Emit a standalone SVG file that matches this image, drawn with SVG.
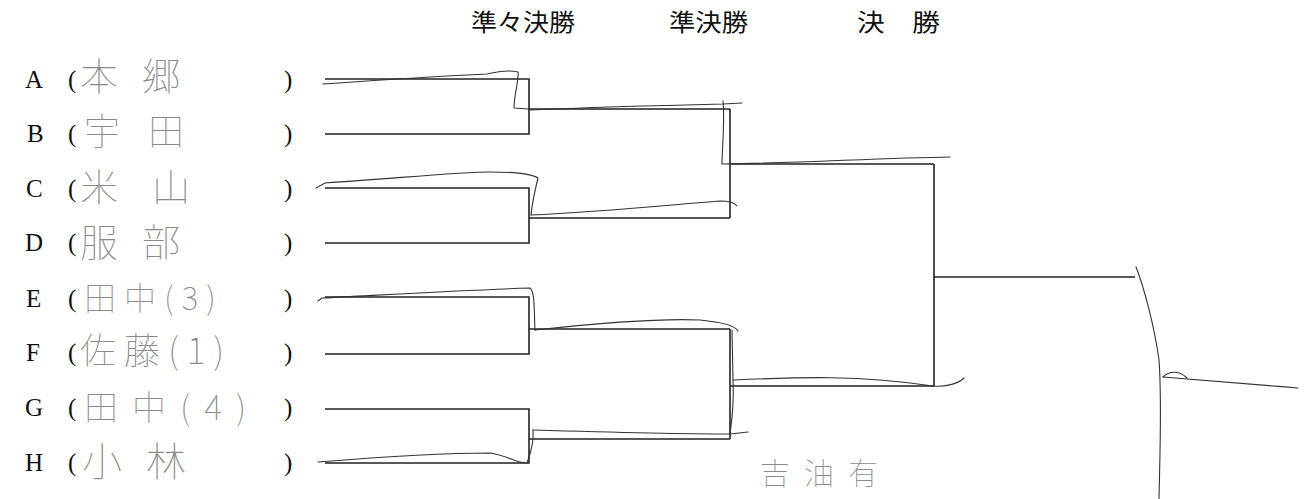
<svg xmlns="http://www.w3.org/2000/svg" width="1313" height="499" viewBox="0 0 1313 499">
<style>
.hdr{font-family:"Noto Sans CJK JP","Noto Sans",sans-serif;font-size:24px;fill:#111}
.lbl{font-family:"Liberation Serif",serif;font-size:25px;fill:#111}
.par{font-family:"Liberation Serif",serif;font-size:25px;fill:#111}
.hw{font-family:"Noto Sans CJK JP",sans-serif;font-weight:100;fill:#8a8a8a}
.br{fill:none;stroke:#222;stroke-width:1.6}
.tr{fill:none;stroke:#333;stroke-width:1.1;stroke-linecap:round}
</style>
<g id="headers">
<text class="hdr" x="471" y="31" textLength="104" lengthAdjust="spacingAndGlyphs">準々決勝</text>
<text class="hdr" x="669" y="31" textLength="79" lengthAdjust="spacingAndGlyphs">準決勝</text>
<text class="hdr" x="857" y="31" textLength="83" lengthAdjust="spacingAndGlyphs">決　勝</text>
</g>
<g id="entryA"><text class="lbl" x="25" y="88">A</text><text class="par" x="68" y="88">(</text><text class="par" x="284" y="88">)</text><text class="hw" x="80" y="90" font-size="38" letter-spacing="24">本郷</text></g>
<g id="entryB"><text class="lbl" x="27" y="142">B</text><text class="par" x="68" y="142">(</text><text class="par" x="284" y="142">)</text><text class="hw" x="84" y="145" font-size="36" letter-spacing="28">宇田</text></g>
<g id="entryC"><text class="lbl" x="26" y="197">C</text><text class="par" x="68" y="197">(</text><text class="par" x="284" y="197">)</text><text class="hw" x="80" y="201" font-size="38" letter-spacing="34">米山</text></g>
<g id="entryD"><text class="lbl" x="25" y="251">D</text><text class="par" x="68" y="251">(</text><text class="par" x="284" y="251">)</text><text class="hw" x="80" y="256" font-size="38" letter-spacing="24">服部</text></g>
<g id="entryE"><text class="lbl" x="26" y="307">E</text><text class="par" x="68" y="307">(</text><text class="par" x="284" y="307">)</text><text class="hw" x="84" y="310" font-size="32" letter-spacing="8">田中(3)</text></g>
<g id="entryF"><text class="lbl" x="26" y="361">F</text><text class="par" x="68" y="361">(</text><text class="par" x="284" y="361">)</text><text class="hw" x="80" y="364" font-size="36" letter-spacing="8">佐藤(1)</text></g>
<g id="entryG"><text class="lbl" x="25" y="416">G</text><text class="par" x="68" y="416">(</text><text class="par" x="284" y="416">)</text><text class="hw" x="84" y="420" font-size="34" letter-spacing="14">田中(4)</text></g>
<g id="entryH"><text class="lbl" x="25" y="471">H</text><text class="par" x="68" y="471">(</text><text class="par" x="284" y="471">)</text><text class="hw" x="82" y="476" font-size="40" letter-spacing="24">小林</text></g>
<g id="note"><text class="hw" x="760" y="484" font-size="30" letter-spacing="14">吉油有</text></g>
<g id="connectors">
<path class="br" d="M325,79 H529 V134 H325 M529,109 H730"/>
<path class="br" d="M325,188 H529 V243 H325 M529,218 H730"/>
<path class="br" d="M325,297 H529 V354 H325 M529,329 H730"/>
<path class="br" d="M325,409 H529 V463 H325 M529,439 H730"/>
<path class="br" d="M730,109 V218 M730,164 H934"/>
<path class="br" d="M730,329 V439 M730,386 H934"/>
<path class="br" d="M934,164 V386 M934,277 H1135"/>
</g>
<g id="handwritten-traces">
<path class="tr" d="M323,84 C380,80 440,76 487,74 C500,71 510,70 518,72 C519,80 514,95 514,108 L529,109"/>
<path class="tr" d="M529,110 C600,107 680,105 723,104 L742,103"/>
<path class="tr" d="M723,101 C725,120 722,150 722,164 C800,163 880,158 950,157"/>
<path class="tr" d="M316,188 L325,183 C400,178 460,172 490,172 C510,172 530,173 538,178 C535,190 532,205 531,215"/>
<path class="tr" d="M531,215 C600,212 680,204 720,201 C730,201 735,203 737,206"/>
<path class="tr" d="M318,301 L322,298 C400,294 470,290 530,288 C535,292 534,310 535,330"/>
<path class="tr" d="M535,330 C600,323 660,318 700,320 C720,322 735,325 738,331"/>
<path class="tr" d="M732,330 L733,380 C734,400 732,420 730,434"/>
<path class="tr" d="M733,380 C800,377 860,375 933,386 C945,387 958,384 964,378"/>
<path class="tr" d="M533,430 C600,432 700,434 730,434 L748,432"/>
<path class="tr" d="M533,430 C534,440 530,455 527,463"/>
<path class="tr" d="M318,462 C380,457 440,453 490,453 C505,455 515,462 525,463"/>
<path class="tr" d="M1136,267 C1145,290 1155,330 1159,360 C1162,400 1160,450 1159,499"/>
<path class="tr" d="M1163,377 C1200,380 1250,384 1298,388"/>
<path class="tr" d="M1163,377 C1170,370 1180,371 1187,378"/>
</g>
</svg>
